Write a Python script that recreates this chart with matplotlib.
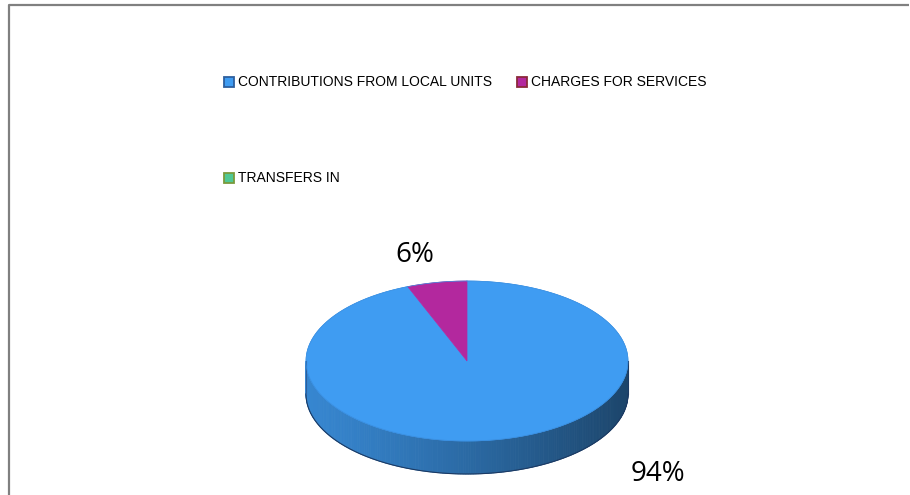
import numpy as np
import matplotlib
matplotlib.use("Agg")
from matplotlib import pyplot as plt
from matplotlib.patches import Polygon, Rectangle
from matplotlib.colors import to_rgb

# revenue shares
categories = ["CONTRIBUTIONS FROM LOCAL UNITS", "CHARGES FOR SERVICES", "TRANSFERS IN"]
shares = [94, 6, 0]
top_colors = ["#3f9cf2", "#b3289e", "#4fc894"]
edge_colors = ["#2d5f9e", "#8b2a3a", "#7a9a3c"]

plt.rcParams['font.family'] = ['Liberation Sans', 'DejaVu Sans']

fig = plt.figure(figsize=(9.1, 4.95), dpi=100)
ax = fig.add_axes([0, 0, 1, 1])
ax.set_xlim(0, 910)
ax.set_ylim(495, 0)
ax.axis('off')

# outer frame (open at right/bottom, as cut by the page)
ax.plot([8.5, 8.5, 909], [495, 4.5, 4.5], color='#808080', lw=1.6, solid_capstyle='butt')

cx, cy, rx, ry, depth = 467, 361, 161, 80, 33


def edge(theta):
    # clockwise from 12 o'clock on the tilted disc
    return cx + rx * np.sin(theta), cy - ry * np.cos(theta)


def shade(color, x):
    # side wall gets darker towards the right
    t = (x - (cx - rx)) / (2 * rx)
    base = np.array(to_rgb(color))
    f = 0.86 - 0.42 * t ** 1.2
    return tuple(np.clip(base * f, 0, 1))


fracs = np.array(shares, dtype=float) / sum(shares)
starts = np.concatenate([[0], np.cumsum(fracs)[:-1]]) * 2 * np.pi
ends = np.cumsum(fracs) * 2 * np.pi

# side wall, only the front half is visible
for a0, a1, col in zip(starts, ends, top_colors):
    lo, hi = max(a0, np.pi / 2), min(a1, 3 * np.pi / 2)
    if hi <= lo:
        continue
    steps = np.linspace(lo, hi, 200)
    for s0, s1 in zip(steps[:-1], steps[1:]):
        th = np.linspace(s0, s1, 3)
        x, y = edge(th)
        pts = list(zip(x, y)) + list(zip(x[::-1], y[::-1] + depth))
        ax.add_patch(Polygon(pts, closed=True, facecolor=shade(col, x.mean()),
                             edgecolor=shade(col, x.mean()), lw=0.6))

# thin outline of the wall
th = np.linspace(np.pi / 2, 3 * np.pi / 2, 200)
x, y = edge(th)
ax.plot(x, y + depth, color='#1c3a63', lw=0.8)
ax.plot([cx - rx, cx - rx], [cy, cy + depth], color='#2c5f9e', lw=0.8)
ax.plot([cx + rx, cx + rx], [cy, cy + depth], color='#1c3a63', lw=0.8)

# top face
for a0, a1, col in zip(starts, ends, top_colors):
    if a1 - a0 <= 0:
        continue
    th = np.linspace(a0, a1, 300)
    x, y = edge(th)
    pts = [(cx, cy)] + list(zip(x, y))
    ax.add_patch(Polygon(pts, closed=True, facecolor=col, edgecolor=col, lw=0.5))
th = np.linspace(0, 2 * np.pi, 400)
x, y = edge(th)
ax.plot(x, y, color='#3a8ee0', lw=0.5)

# data labels
label_pos = [(658, 474), (415, 255)]
for share, (lx, ly) in zip(shares, label_pos):
    ax.text(lx, ly, f"{share}%", fontsize=20, ha='center', va='center',
            color='#000000', family=['Open Sans', 'DejaVu Sans'])

# legend
legend_pos = [(229, 82), (522, 82), (229, 178)]
for name, fc, ec, (lx, ly) in zip(categories, top_colors, edge_colors, legend_pos):
    ax.add_patch(Rectangle((lx - 5, ly - 5), 10, 10, facecolor=fc, edgecolor=ec, lw=1.3))
    ax.text(lx + 9, ly + 0.5, name, fontsize=10, ha='left', va='center', color='#000000')

fig.savefig("out.png", dpi=100)
